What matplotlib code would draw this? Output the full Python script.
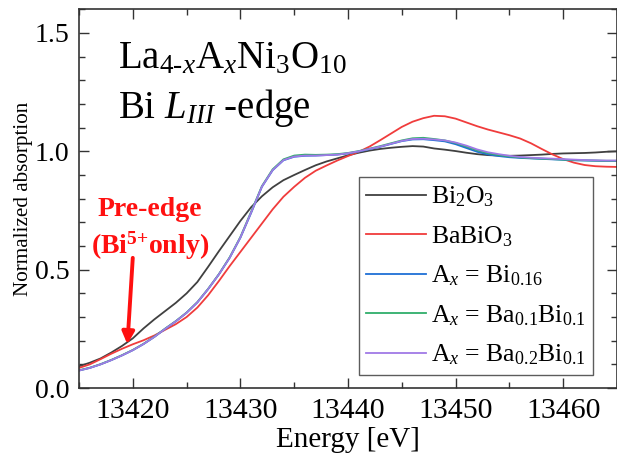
"""Bi L_III-edge XANES of La4-xAxNi3O10 compared with Bi2O3 and BaBiO3 references."""

import matplotlib
matplotlib.use("Agg")
import matplotlib.pyplot as plt
from matplotlib.ticker import MultipleLocator
import numpy as np

plt.rcParams["font.family"] = ["Liberation Serif", "DejaVu Serif"]
plt.rcParams["mathtext.fontset"] = "custom"
plt.rcParams["mathtext.rm"] = "Liberation Serif"
plt.rcParams["mathtext.it"] = "Liberation Serif:italic"
plt.rcParams["mathtext.bf"] = "Liberation Serif:bold"

# photon energy grid [eV]
energy = np.arange(13415, 13466, 1)

bi2o3 = [0.092, 0.107, 0.125, 0.150, 0.178, 0.210, 0.252, 0.290, 0.325, 0.360,
         0.400, 0.448, 0.512, 0.578, 0.642, 0.706, 0.764, 0.810, 0.848, 0.878,
         0.900, 0.921, 0.941, 0.957, 0.970, 0.983, 0.994, 1.003, 1.010, 1.015,
         1.019, 1.022, 1.020, 1.012, 1.007, 1.001, 0.994, 0.988, 0.984, 0.982,
         0.981, 0.982, 0.984, 0.986, 0.989, 0.991, 0.992, 0.993, 0.995, 0.998,
         1.000]

babio3 = [0.085, 0.100, 0.122, 0.145, 0.166, 0.185, 0.202, 0.222, 0.246, 0.270,
          0.300, 0.340, 0.392, 0.452, 0.515, 0.575, 0.635, 0.695, 0.755, 0.808,
          0.850, 0.888, 0.918, 0.940, 0.961, 0.980, 0.998, 1.020, 1.047, 1.075,
          1.103, 1.125, 1.140, 1.150, 1.148, 1.138, 1.122, 1.106, 1.092, 1.080,
          1.068, 1.054, 1.034, 1.010, 0.987, 0.967, 0.952, 0.942, 0.937, 0.935,
          0.934]

bi016 = [0.074, 0.085, 0.100, 0.118, 0.138, 0.160, 0.186, 0.216, 0.250, 0.282,
         0.318, 0.362, 0.418, 0.480, 0.550, 0.635, 0.740, 0.850, 0.920, 0.962,
         0.977, 0.981, 0.982, 0.984, 0.986, 0.991, 0.999, 1.009, 1.019, 1.031,
         1.043, 1.050, 1.051, 1.047, 1.042, 1.030, 1.014, 0.998, 0.987, 0.980,
         0.975, 0.972, 0.970, 0.968, 0.966, 0.964, 0.962, 0.961, 0.960, 0.959,
         0.959]

ba01bi01 = [0.075, 0.086, 0.101, 0.119, 0.139, 0.161, 0.187, 0.217, 0.251, 0.283,
            0.319, 0.363, 0.419, 0.481, 0.552, 0.638, 0.745, 0.853, 0.924, 0.966,
            0.982, 0.986, 0.985, 0.986, 0.988, 0.993, 1.001, 1.011, 1.022, 1.034,
            1.046, 1.055, 1.057, 1.052, 1.046, 1.035, 1.020, 1.004, 0.992, 0.984,
            0.978, 0.974, 0.971, 0.969, 0.967, 0.965, 0.963, 0.962, 0.961, 0.960,
            0.960]

ba02bi01 = [0.074, 0.085, 0.100, 0.118, 0.138, 0.160, 0.186, 0.216, 0.250, 0.282,
            0.318, 0.362, 0.418, 0.480, 0.550, 0.636, 0.742, 0.851, 0.921, 0.963,
            0.978, 0.982, 0.982, 0.984, 0.986, 0.992, 1.000, 1.010, 1.020, 1.032,
            1.044, 1.052, 1.053, 1.050, 1.046, 1.037, 1.024, 1.008, 0.996, 0.988,
            0.981, 0.976, 0.973, 0.971, 0.969, 0.967, 0.965, 0.963, 0.962, 0.961,
            0.961]

series = [
    ("Bi$_2$O$_3$", bi2o3, "#404040"),
    ("BaBiO$_3$", babio3, "#f03c3c"),
    ("A$_x$ = Bi$_{0.16}$", bi016, "#1f6fd6"),
    ("A$_x$ = Ba$_{0.1}$Bi$_{0.1}$", ba01bi01, "#2fae6a"),
    ("A$_x$ = Ba$_{0.2}$Bi$_{0.1}$", ba02bi01, "#a07ae6"),
]

fig = plt.figure(figsize=(6.17, 4.62), dpi=100)
ax = fig.add_axes([0.128, 0.160, 0.872, 0.820])

for label, values, color in series:
    ax.plot(energy, values, color=color, lw=1.3, label=label)

ax.set_xlim(13415, 13465)
ax.set_ylim(0.0, 1.6)
ax.xaxis.set_major_locator(MultipleLocator(10))
ax.xaxis.set_minor_locator(MultipleLocator(5))
ax.yaxis.set_major_locator(MultipleLocator(0.5))
ax.yaxis.set_minor_locator(MultipleLocator(0.1))
ax.tick_params(which="both", direction="in", top=True, right=True,
               color="#333333", pad=7)
ax.tick_params(axis="x", labelsize=21.5)
ax.tick_params(axis="y", labelsize=20)
ax.tick_params(which="major", length=7, width=1.0)
ax.tick_params(which="minor", length=4, width=1.0)
for spine in ax.spines.values():
    spine.set_color("#333333")
    spine.set_linewidth(1.2)

ax.set_xlabel("Energy [eV]", fontsize=21, labelpad=2)
ax.set_ylabel("Normalized absorption", fontsize=15.2, labelpad=1)

ax.text(0.072, 0.87, r"La$_{4\text{-}x}$A$_x$Ni$_3$O$_{10}$", transform=ax.transAxes,
        fontsize=28, va="center", ha="left")
ax.text(0.072, 0.739, r"Bi $L_{III}$ -edge", transform=ax.transAxes,
        fontsize=28, va="center", ha="left")

ax.text(13421.6, 0.755, "Pre-edge", color="#ff1010", fontsize=20,
        fontweight="bold", ha="center", va="center")
ax.text(13421.6, 0.60, r"(Bi$^{\mathbf{5{+}}}$only)", color="#ff1010", fontsize=20,
        fontweight="bold", ha="center", va="center")
ax.annotate("", xy=(13419.5, 0.185), xytext=(13420.0, 0.55),
            arrowprops=dict(arrowstyle="-|>", color="#ff1010", lw=2.8,
                            mutation_scale=18, shrinkA=0, shrinkB=0))

leg = ax.legend(loc="lower left", bbox_to_anchor=(0.52, 0.034), fontsize=18.5,
                frameon=True, fancybox=False, borderaxespad=0,
                handlelength=2.3, handletextpad=0.2, labelspacing=0.58,
                borderpad=0.3)
leg.get_frame().set_edgecolor("#333333")
leg.get_frame().set_linewidth(1.0)

fig.savefig("out.png", dpi=100)
